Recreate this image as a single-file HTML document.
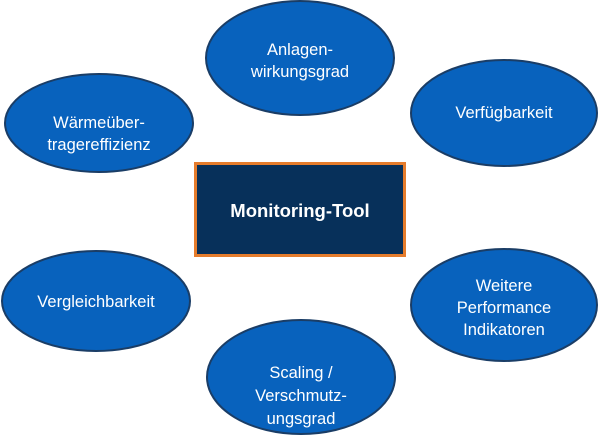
<!DOCTYPE html>
<html><head><meta charset="utf-8"><style>
html,body{margin:0;padding:0;background:#fff;width:600px;height:436px;overflow:hidden}
svg text{font-family:"Liberation Sans",sans-serif;fill:#fff;font-size:16.5px;text-anchor:middle}
</style></head><body>
<svg width="600" height="436" viewBox="0 0 600 436">
<g fill="#0862bd" stroke="#1a3d66" stroke-width="2">
<ellipse cx="300" cy="58" rx="94" ry="57"/>
<ellipse cx="99" cy="123" rx="94" ry="49"/>
<ellipse cx="504" cy="113" rx="93" ry="53"/>
<ellipse cx="96" cy="301" rx="94" ry="50"/>
<ellipse cx="504" cy="305" rx="93" ry="56"/>
<ellipse cx="301" cy="377" rx="94" ry="57"/>
</g>
<rect x="195.5" y="163.5" width="209" height="92" fill="#07305a" stroke="#e57c2c" stroke-width="3"/>
<text x="300" y="217" style="font-weight:bold;font-size:18.5px">Monitoring-Tool</text>
<text x="300" y="55">Anlagen-</text>
<text x="300" y="77">wirkungsgrad</text>
<text x="99" y="128">Wärmeüber-</text>
<text x="99" y="150">tragereffizienz</text>
<text x="504" y="118">Verfügbarkeit</text>
<text x="96" y="307">Vergleichbarkeit</text>
<text x="504" y="291">Weitere</text>
<text x="504" y="313">Performance</text>
<text x="504" y="335">Indikatoren</text>
<text x="301" y="378">Scaling /</text>
<text x="301" y="401">Verschmutz-</text>
<text x="301" y="424">ungsgrad</text>
</svg>
</body></html>
